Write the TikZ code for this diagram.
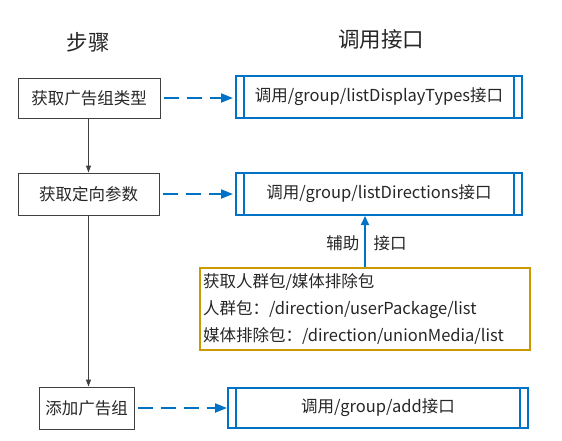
\documentclass[tikz,border=0pt]{standalone}
\usepackage{fontspec}
\setmainfont{Noto Sans CJK SC}
\usepackage{xcolor}
\usepackage{tikz}
\usetikzlibrary{arrows.meta,calc}
\definecolor{apiblue}{RGB}{0,114,198}
\definecolor{helpgold}{RGB}{204,153,0}
\definecolor{txtgray}{RGB}{38,38,38}
\definecolor{linegray}{RGB}{64,64,64}

\tikzset{
  stepbox/.style={draw=linegray, line width=1pt, text=txtgray, font=\fontsize{16.5}{20}\selectfont,
    minimum height=42pt, inner sep=0pt},
  apibox/.style={draw=apiblue, line width=2pt, text=txtgray, font=\fontsize{16.5}{20}\selectfont,
    minimum height=42pt, inner sep=0pt,
    path picture={
      \draw[apiblue, line width=1.5pt]
        ([xshift=8pt]path picture bounding box.north west) -- ([xshift=8pt]path picture bounding box.south west)
        ([xshift=-8pt]path picture bounding box.north east) -- ([xshift=-8pt]path picture bounding box.south east);
    }},
  helpbox/.style={draw=helpgold, line width=2pt, text=txtgray, font=\fontsize{16.5}{27}\selectfont,
    align=left, text width=324pt, minimum width=330pt, minimum height=82pt, inner sep=3pt},
  title/.style={text=txtgray, font=\fontsize{21.5}{26}\selectfont},
  calls/.style={apiblue, line width=2pt, dash pattern=on 15pt off 8pt, -{Triangle[length=12pt,width=9pt]}},
  flow/.style={linegray, line width=1pt, -{Triangle[length=7pt,width=5pt]}}
}

\begin{document}
\begin{tikzpicture}[x=1pt, y=-1pt]
    \useasboundingbox (0,0) rectangle (562,440);
    % Headings
    \node[title] (hsteps) at (88,42) {步骤};
    \node[title] (hapi) at (381,39) {调用接口};
    % Steps
    \node[stepbox, minimum width=142pt, minimum height=40pt] (getType) at (89,98) {获取广告组类型};
    \node[stepbox, minimum width=141pt] (getDir) at (88.5,194) {获取定向参数};
    \node[stepbox, minimum width=95pt] (addGroup) at (86.5,408) {添加广告组};
    % Interfaces
    \node[apibox, minimum width=286pt] (apiType) at (379,97) {调用/group/listDisplayTypes接口};
    \node[apibox, minimum width=286pt] (apiDir) at (379,194) {调用/group/listDirections接口};
    \node[apibox, minimum width=300pt, minimum height=40pt] (apiAdd) at (378,408) {调用/group/add接口};
    % Helper interfaces
    \node[helpbox] (helper) at (365,309) {获取人群包/媒体排除包\\人群包：/direction/userPackage/list\\媒体排除包：/direction/unionMedia/list};
    % Flow
    \draw[flow] (getType.south -| getDir.north) -- (getDir.north);
    \draw[flow] (getDir.south) -- (getDir.south |- addGroup.north);
    % Calls
    \draw[calls] ([xshift=3pt]getType.east) -- ([xshift=-2pt]apiType.west |- getType.east);
    \draw[calls] ([xshift=3pt]getDir.east) -- ([xshift=-2pt]apiDir.west);
    \draw[calls] ([xshift=3pt]addGroup.east) -- (apiAdd.west |- addGroup.east);
    % Helper arrow
    \draw[apiblue, line width=2pt, -{Triangle[length=9pt,width=8pt]}] (helper.north) -- (helper.north |- apiDir.south);
    \node[text=txtgray, font=\fontsize{16.5}{20}\selectfont, anchor=east] (lblAux) at (363,243) {辅助};
    \node[text=txtgray, font=\fontsize{16.5}{20}\selectfont, anchor=west] (lblIf) at (370,243) {接口};
\end{tikzpicture}
\end{document}
